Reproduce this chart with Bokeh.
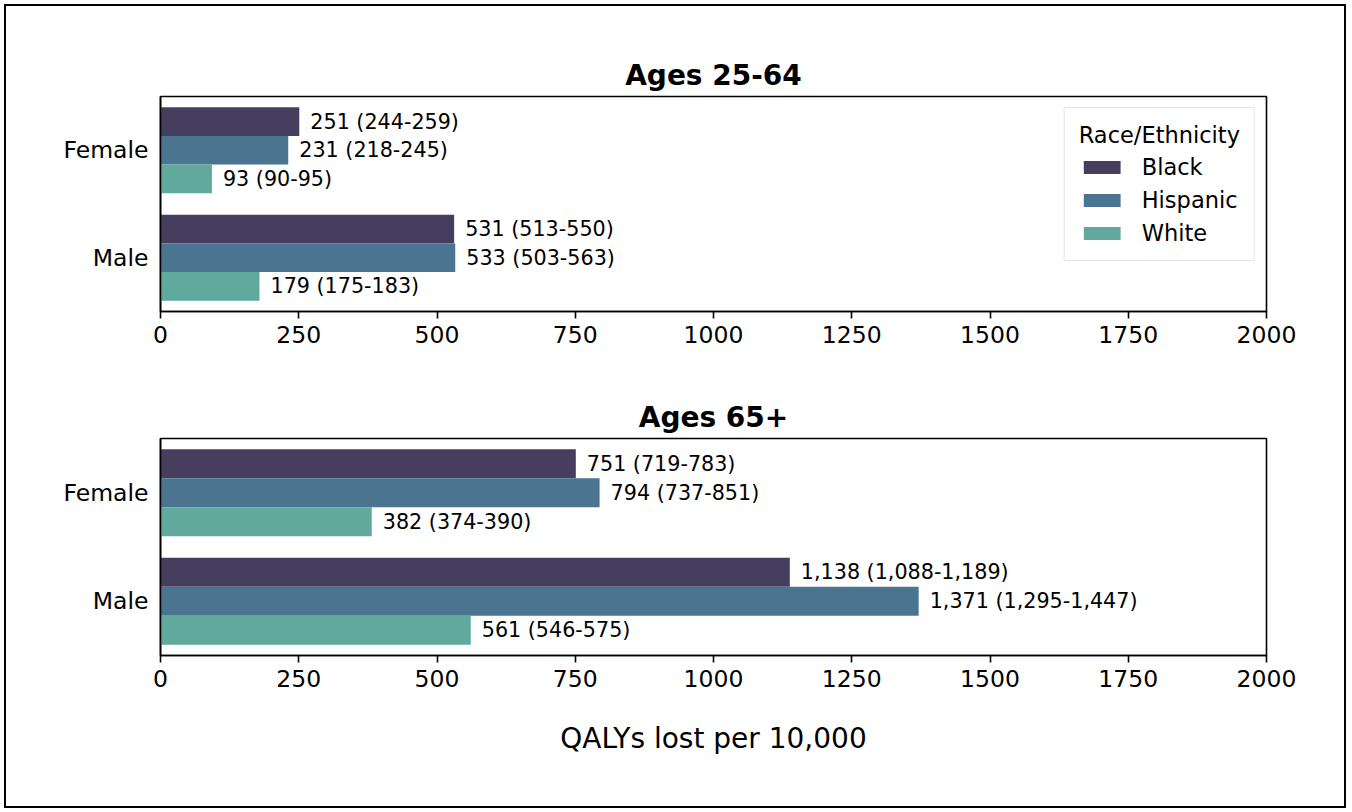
from bokeh.plotting import figure
from bokeh.models import FactorRange, Range1d, FixedTicker, Legend, LegendItem, ColumnDataSource
from bokeh.layouts import column
from bokeh.transform import dodge
from bokeh.core.properties import value
from bokeh.embed import file_html
from bokeh.resources import INLINE

# ---- data ----
genders = ["Female", "Male"]
races = ["Black", "Hispanic", "White"]
panel_titles = ["Ages 25-64", "Ages 65+"]
x_ticks = [0, 250, 500, 750, 1000, 1250, 1500, 1750, 2000]

young_black = [251, 531]
young_black_lo = [244, 513]
young_black_hi = [259, 550]
young_hispanic = [231, 533]
young_hispanic_lo = [218, 503]
young_hispanic_hi = [245, 563]
young_white = [93, 179]
young_white_lo = [90, 175]
young_white_hi = [95, 183]

old_black = [751, 1138]
old_black_lo = [719, 1088]
old_black_hi = [783, 1189]
old_hispanic = [794, 1371]
old_hispanic_lo = [737, 1295]
old_hispanic_hi = [851, 1447]
old_white = [382, 561]
old_white_lo = [374, 546]
old_white_hi = [390, 575]

x_label = "QALYs lost per 10,000"
legend_title = "Race/Ethnicity"

colors = {"Black": "#463E5F", "Hispanic": "#4A7490", "White": "#60A99C"}
FONT = "DejaVu Sans"
BAR_H = 0.8 / 3
offsets = {"Black": BAR_H, "Hispanic": 0.0, "White": -BAR_H}


def fmt(v):
    return f"{v:,}"


def make_panel(title, series, width, height, mb, with_legend, with_xlabel):
    p = figure(width=width, height=height, output_backend="svg", toolbar_location=None,
               y_range=FactorRange(factors=genders[::-1]), x_range=Range1d(0, 2000),
               min_border_left=mb[0], min_border_right=mb[1], min_border_top=mb[2],
               min_border_bottom=mb[3], title=title)
    p.title.text_font = FONT
    p.title.text_font_size = "28px"
    p.title.text_font_style = "bold"
    p.title.text_color = "black"
    p.title.align = "center"
    p.title.standoff = 10
    p.xgrid.visible = False
    p.ygrid.visible = False
    p.outline_line_color = "black"
    p.outline_line_width = 1.6
    p.outline_line_alpha = 1.0
    p.background_fill_color = "white"
    p.border_fill_color = "white"

    items = []
    for race, (vals, lo, hi) in series.items():
        src = ColumnDataSource(dict(
            gender=genders, value=vals,
            label=[f"{fmt(v)} ({fmt(a)}-{fmt(b)})" for v, a, b in zip(vals, lo, hi)]))
        y = dodge("gender", offsets[race], range=p.y_range)
        r = p.hbar(y=y, left=0, right="value", height=BAR_H, source=src,
                   fill_color=colors[race], line_color=None)
        p.text(x="value", y=y, text="label", source=src, x_offset=11,
               text_baseline="middle", text_align="left", text_font=value(FONT),
               text_font_size="20.7px", text_color="black")
        items.append(LegendItem(label=race, renderers=[r]))

    xa = p.xaxis[0]
    xa.ticker = FixedTicker(ticks=x_ticks)
    xa.minor_tick_line_color = None
    xa.major_tick_out = 7
    xa.major_tick_in = 0
    xa.major_tick_line_width = 1.6
    xa.axis_line_width = 1.6
    xa.major_label_text_font = FONT
    xa.major_label_text_font_size = "23.5px"
    xa.major_label_text_color = "black"
    xa.major_label_standoff = 7
    if with_xlabel:
        xa.axis_label = x_label
        xa.axis_label_text_font = FONT
        xa.axis_label_text_font_size = "28px"
        xa.axis_label_text_font_style = "normal"
        xa.axis_label_text_color = "black"
        xa.axis_label_standoff = 32

    ya = p.yaxis[0]
    ya.major_tick_out = 0
    ya.major_tick_in = 0
    ya.axis_line_width = 1.6
    ya.major_label_text_font = FONT
    ya.major_label_text_font_size = "23.5px"
    ya.major_label_text_color = "black"
    ya.major_label_standoff = 12

    if with_legend:
        leg = Legend(items=items, location="top_right", margin=11, padding=14,
                     title=legend_title, title_text_font=FONT, title_text_font_size="22.5px",
                     title_text_font_style="normal", title_text_color="black", title_standoff=6,
                     label_text_font=FONT, label_text_font_size="22.5px", label_text_color="black",
                     glyph_width=46, glyph_height=16, label_standoff=17, spacing=7,
                     border_line_color="#CCCCCC", border_line_width=1.5,
                     background_fill_alpha=0.8)
        p.add_layout(leg)
    return p


p1 = make_panel(panel_titles[0],
                {"Black": (young_black, young_black_lo, young_black_hi),
                 "Hispanic": (young_hispanic, young_hispanic_lo, young_hispanic_hi),
                 "White": (young_white, young_white_lo, young_white_hi)},
                1338, 374, (154, 78, 90, 69), True, False)
p2 = make_panel(panel_titles[1],
                {"Black": (old_black, old_black_lo, old_black_hi),
                 "Hispanic": (old_hispanic, old_hispanic_lo, old_hispanic_hi),
                 "White": (old_white, old_white_lo, old_white_hi)},
                1338, 426, (154, 78, 58, 151), False, True)

layout = column(p1, p2, spacing=0, margin=(4, 4, 4, 4), styles={"border": "2px solid black"})

open("out.html", "w").write(file_html(layout, INLINE))
